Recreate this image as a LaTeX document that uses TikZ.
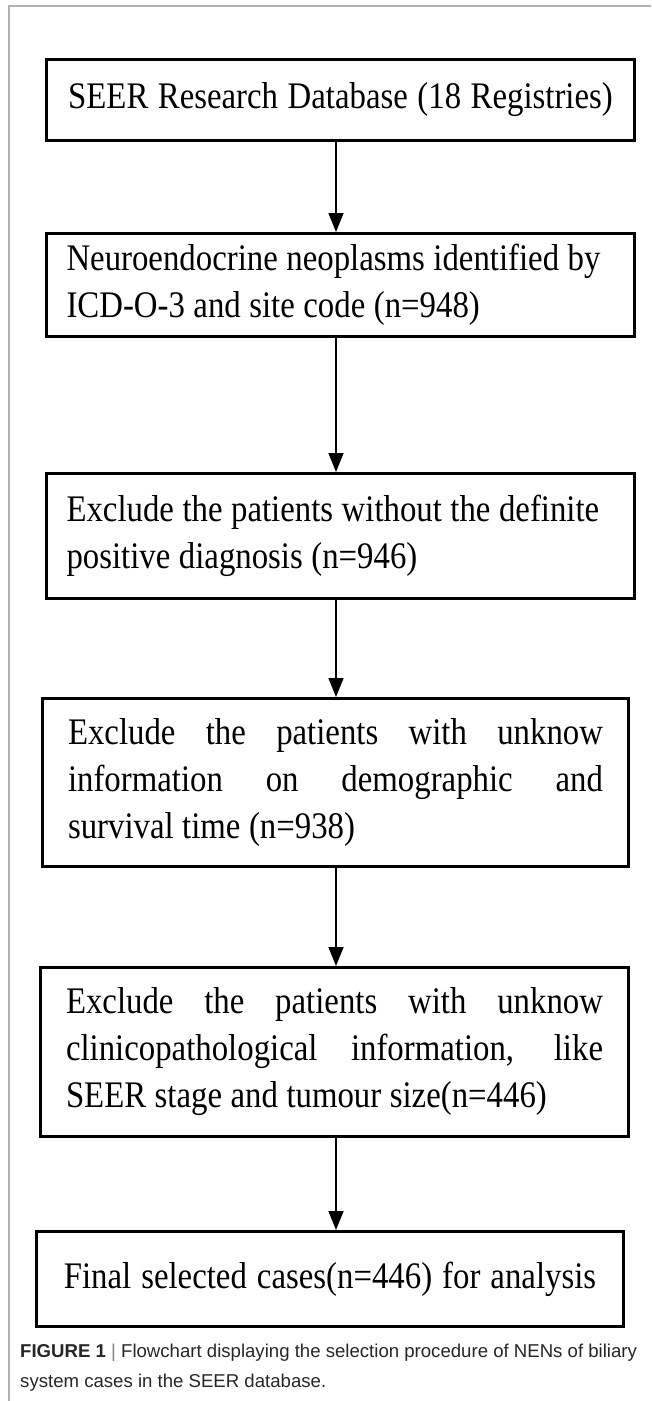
\documentclass[tikz,border=0pt]{standalone}
\usepackage{fontspec}
\setmainfont{Liberation Serif}[FakeStretch=0.875]
\newfontfamily\capfont{Liberation Sans}
\usetikzlibrary{arrows.meta}
\newcommand{\boxfont}{\fontsize{37.5}{47}\selectfont}
\begin{document}
\begin{tikzpicture}[x=1pt,y=-1pt,
  box/.style={draw,line width=3pt,inner sep=0pt,anchor=north west,
    font=\boxfont,execute at begin node={\spaceskip=8.5pt plus 6pt minus 2pt\relax}},
  arr/.style={line width=1.5pt,-{Triangle[length=19pt,width=15pt]}},
  frame/.style={draw=black!30,line width=1.2pt}]
\useasboundingbox (0,0) rectangle (651,1401);
\draw[frame] (651,6) -- (9,6) -- (9,1401);
\coordinate (ax) at (336,0);
\node[box,minimum width=588pt,minimum height=81pt,text width=570pt,align=center] (b1) at (45,58)
  {SEER Research Database (18 Registries)};
\node[box,minimum width=588pt,minimum height=103pt,text width=548pt,align=left] (b2) at (45,232)
  {Neuroendocrine neoplasms identified by\\ICD-O-3 and site code (n=948)};
\node[box,minimum width=588pt,minimum height=125pt,text width=548pt,align=left] (b3) at (45,472)
  {Exclude the patients without the definite\\positive diagnosis (n=946)};
\node[box,minimum width=586pt,minimum height=168pt,text width=535pt,align=justify] (b4) at (41,697)
  {Exclude the patients with unknow\linebreak information on demographic and\linebreak survival time (n=938)};
\node[box,minimum width=588pt,minimum height=169pt,text width=537pt,align=justify] (b5) at (39,966)
  {Exclude the patients with unknow\linebreak clinicopathological information, like\linebreak SEER stage and tumour size(n=446)};
\node[box,minimum width=587pt,minimum height=95pt,text width=570pt,align=center] (b6) at (35,1230)
  {Final selected cases(n=446) for analysis};
\draw[arr] (b1.south -| ax) -- (b2.north -| ax);
\draw[arr] (b2.south -| ax) -- (b3.north -| ax);
\draw[arr] (b3.south -| ax) -- (b4.north -| ax);
\draw[arr] (b4.south -| ax) -- (b5.north -| ax);
\draw[arr] (b5.south -| ax) -- (b6.north -| ax);
\node[anchor=base west,inner sep=0pt,align=left,text=black!85,
  font=\capfont\fontsize{18.6}{30}\selectfont] (cap) at (20,1387)
  {{\bfseries FIGURE 1} {\color{black!50}|} Flowchart displaying the selection procedure of NENs of biliary\\system cases in the SEER database.};
\end{tikzpicture}
\end{document}
